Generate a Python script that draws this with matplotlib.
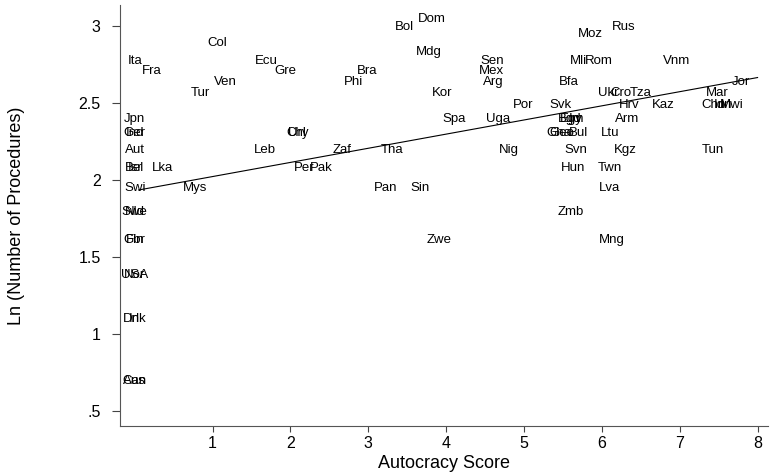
import numpy as np
import matplotlib
matplotlib.use("Agg")
import matplotlib.pyplot as plt

plt.rcParams['font.family'] = ['Liberation Sans', 'DejaVu Sans']

# country code, autocracy score, number of procedures
codes = ["Ita", "Fra", "Jpn", "Ger", "Ind", "Aut", "Bel", "Isr", "Lka", "Swi",
         "Mys", "Swe", "Nld", "Fin", "Gbr", "USA", "Nor", "Dnk", "Irl", "Can",
         "Aus", "Col", "Tur", "Ven", "Ecu", "Gre", "Bra", "Phi", "Bol", "Dom",
         "Mdg", "Sen", "Mex", "Arg", "Kor", "Spa", "Uga", "Chl", "Ury", "Leb",
         "Zaf", "Tha", "Nig", "Per", "Pak", "Pan", "Sin", "Zwe", "Rus", "Moz",
         "Mli", "Rom", "Vnm", "Bfa", "Jor", "Ukr", "Cro", "Tza", "Mar", "Por",
         "Svk", "Hrv", "Kaz", "Chn", "Idn", "Mwi", "Egy", "Bgd", "Irn", "Arm",
         "Gha", "Geo", "Bul", "Ltu", "Svn", "Kgz", "Tun", "Hun", "Twn", "Lva",
         "Zmb", "Mng"]
autocracy = [0.0, 0.22, 0.0, 0.0, 0.0, 0.0, 0.0, 0.0, 0.35, 0.0,
             0.77, 0.0, 0.0, 0.0, 0.0, 0.0, 0.0, 0.0, 0.0, 0.0,
             0.0, 1.06, 0.84, 1.17, 1.69, 1.94, 2.98, 2.81, 3.47, 3.82,
             3.78, 4.59, 4.58, 4.60, 3.95, 4.10, 4.67, 2.08, 2.10, 1.67,
             2.66, 3.31, 4.80, 2.18, 2.40, 3.22, 3.67, 3.91, 6.28, 5.85,
             5.70, 5.96, 6.96, 5.58, 7.79, 6.08, 6.24, 6.50, 7.48, 4.99,
             5.47, 6.35, 6.79, 7.43, 7.55, 7.67, 5.61, 5.59, 5.67, 6.33,
             5.45, 5.48, 5.70, 6.10, 5.66, 6.30, 7.43, 5.63, 6.10, 6.10,
             5.60, 6.13]
procedures = [16, 15, 11, 10, 10, 9, 8, 8, 8, 7,
              7, 6, 6, 5, 5, 4, 4, 3, 3, 2,
              2, 18, 13, 14, 16, 15, 15, 14, 20, 21,
              17, 16, 15, 14, 13, 11, 11, 10, 10, 9,
              9, 9, 9, 8, 8, 7, 7, 5, 20, 19,
              16, 16, 16, 14, 14, 13, 13, 13, 13, 12,
              12, 12, 12, 12, 12, 12, 11, 11, 11, 11,
              10, 10, 10, 10, 9, 9, 9, 8, 8, 7,
              6, 5]

# fitted line end points
fit_x = [0.05, 8.0]
fit_y = [1.935, 2.665]

xticks = [1, 2, 3, 4, 5, 6, 7, 8]
yticks = [0.5, 1, 1.5, 2, 2.5, 3]
ytick_labels = [".5", "1", "1.5", "2", "2.5", "3"]

ln_proc = np.log(procedures)

fig = plt.figure(figsize=(7.7, 4.75), dpi=100)
ax = fig.add_axes([0.1558, 0.1032, 0.8412, 0.8863])

for c, x, y in zip(codes, autocracy, ln_proc):
    ax.text(x, y, c, ha='center', va='center', fontsize=9.5, color='black')

ax.plot(fit_x, fit_y, color='black', lw=0.8)

ax.set_xlim(-0.19, 8.13)
ax.set_ylim(0.403, 3.136)
ax.set_xticks(xticks)
ax.set_yticks(yticks)
ax.set_yticklabels(ytick_labels)
ax.tick_params(axis='y', length=6, width=0.8, pad=8, labelsize=11.5, color='#444444')
ax.tick_params(axis='x', length=4, width=0.8, pad=3, labelsize=11.5, color='#444444')
for s in ['top', 'right']:
    ax.spines[s].set_visible(False)
for s in ['left', 'bottom']:
    ax.spines[s].set_color('#555555')
    ax.spines[s].set_linewidth(0.8)

ax.set_xlabel("Autocracy Score", fontsize=13, labelpad=3)
ax.set_ylabel("Ln (Number of Procedures)", fontsize=13, labelpad=38)

fig.savefig("out.png", dpi=100)
